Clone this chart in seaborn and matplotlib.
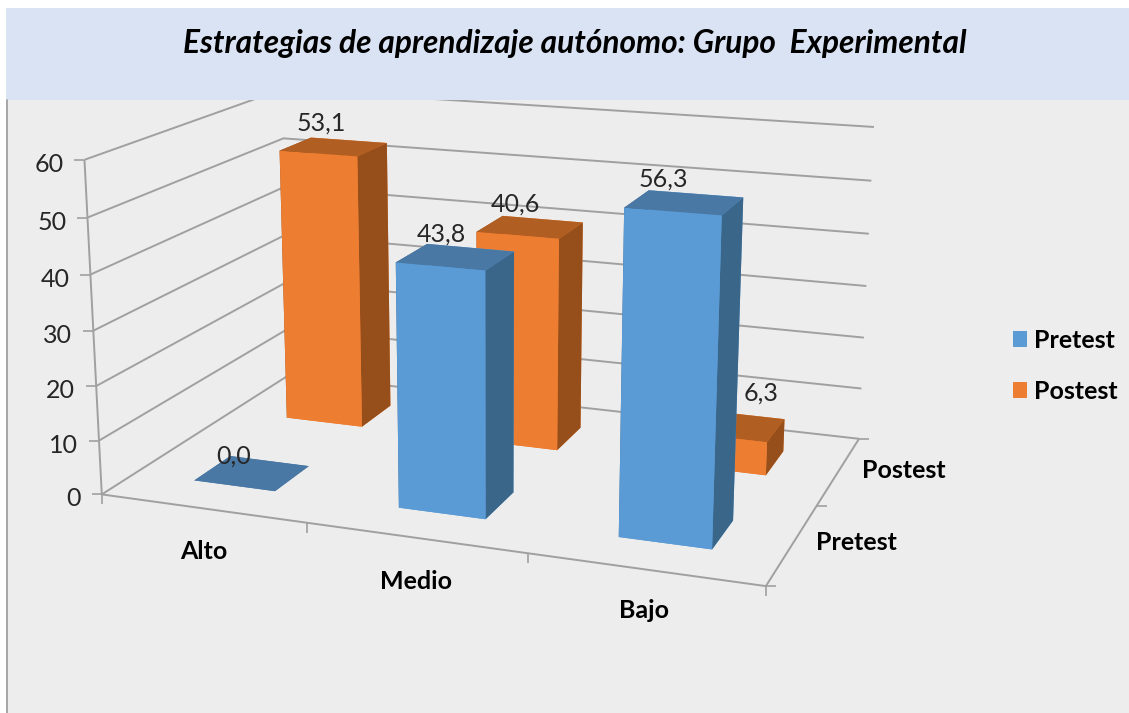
import numpy as np
import pandas as pd
import matplotlib
matplotlib.use('Agg')
import matplotlib.pyplot as plt
import seaborn as sns
from matplotlib.lines import Line2D
from matplotlib.patches import Patch, Rectangle
from mpl_toolkits.mplot3d import proj3d

# ---- data ----
categories = ['Alto', 'Medio', 'Bajo']
series_names = ['Pretest', 'Postest']
pretest = [0.0, 43.8, 56.3]
postest = [53.1, 40.6, 6.3]
z_ticks = [0, 10, 20, 30, 40, 50, 60]
title_text = 'Estrategias de aprendizaje autónomo: Grupo  Experimental'

# ---- style ----
sns.set_theme(style='white')
plt.rcParams['font.family'] = ['Lato', 'DejaVu Sans']
W, H = 1129, 713
BG = '#EDEDED'
GRID = '#A0A0A0'
palette = sns.color_palette(['#5B9BD5', '#ED7D31'])
TOPS = ['#4A78A5', '#B15E23']
SIDES = ['#3A6689', '#964F1B']
BAR_WX, BAR_WY = 0.403, 0.368

df = pd.DataFrame({'category': categories, 'Pretest': pretest, 'Postest': postest})
long = df.melt(id_vars='category', var_name='series', value_name='value')

fig = plt.figure(figsize=(W / 100, H / 100), dpi=100, facecolor='white')
fig.add_artist(Rectangle((0, 0), 1, 1, transform=fig.transFigure, fc='white', ec='none', zorder=-3))
fig.add_artist(Rectangle((6 / W, 0), 1 - 6 / W, 1 - 100 / H, transform=fig.transFigure,
                         fc=BG, ec='none', zorder=-2))

# square 3D axes, placed so that the projection lands where the reference's does
SCALE, TX, TY = 4502.484, 494.569, 307.495
side = SCALE * 0.185
left = TX - 0.095 * SCALE
bottom = H - (TY + 0.095 * SCALE)
ax = fig.add_axes([left / W, bottom / H, side / W, side / H], projection='3d')
ax.set_axis_off()
ax.patch.set_alpha(0)
ax.computed_zorder = False
ax.view_init(elev=15.3374, azim=-69.7156)
ax.set_proj_type('persp', focal_length=float(np.exp(-0.7474)))
ax.set_box_aspect((1.9889, 1.2729, 1))

nx, ny = len(categories), len(series_names)
zmax = z_ticks[-1]
line_kw = dict(color=GRID, lw=1.4, zorder=1, solid_capstyle='butt')

# walls
for z in z_ticks:
    ax.plot([0, 0, nx], [0, ny, ny], [z, z, z], **line_kw)
ax.plot([0, 0], [0, 0], [0, zmax], **line_kw)
# floor
ax.plot([0, nx, nx], [0, 0, ny], [0, 0, 0], **line_kw)
# tick marks
ax.plot([0] * len(z_ticks), [0] * len(z_ticks), z_ticks, ls='none', marker=0, ms=7, mew=1.2, color=GRID, zorder=1)
ax.plot(np.arange(nx + 1), [0] * (nx + 1), [0] * (nx + 1), ls='none', marker=3, ms=7, mew=1.2, color=GRID, zorder=1)
ax.plot([nx] * (ny + 1), np.arange(ny + 1), [0] * (ny + 1), ls='none', marker=1, ms=7, mew=1.2, color=GRID, zorder=1)

# bars, far row first
zo = 2
for j in reversed(range(ny)):
    for i in range(nx):
        h = long[(long.category == categories[i]) & (long.series == series_names[j])].value.iloc[0]
        cols = [palette[j], TOPS[j], palette[j], palette[j], SIDES[j], SIDES[j]]
        if h == 0:
            cols = [TOPS[j]] * 6
        ax.bar3d(i + .5 - BAR_WX / 2, j + .5 - BAR_WY / 2, 0, BAR_WX, BAR_WY, h,
                 color=cols, shade=False, linewidth=0, zorder=zo)
        zo += 1

ax.set_xlim(0, nx)
ax.set_ylim(0, ny)
ax.set_zlim(0, zmax)
M = ax.get_proj()


def label(x, y, z, text, dx, dy, **kw):
    px, py, _ = proj3d.proj_transform(x, y, z, M)
    opts = dict(ha='center', va='center', zorder=20, annotation_clip=False)
    opts.update(kw)
    ax.annotate(text, (px, py), xytext=(dx, dy), textcoords='offset pixels', **opts)


# value labels
value_offsets = {(0, 0): (-18, 17), (1, 0): (-14, 23), (2, 0): (-21, 23),
                 (0, 1): (-12, 24), (1, 1): (-15, 23), (2, 1): (28, 33)}
for j, vals in enumerate([pretest, postest]):
    for i, v in enumerate(vals):
        dx, dy = value_offsets[(i, j)]
        label(i + .5, j + .5, v, f'{v:.1f}'.replace('.', ','), dx, dy,
              fontsize=18, color='#262626')
# axis labels
for z in z_ticks:
    label(0, 0, z, str(z), -21, -4.5, ha='right', fontsize=18, color='#262626')
cat_offsets = [(1, -43), (1, -44), (0, -41)]
for i, c in enumerate(categories):
    label(i + .5, 0, 0, c, *cat_offsets[i], fontsize=18, fontweight='bold', color='black')
ser_offsets = [(64, 1), (65, 0)]
for j, s in enumerate(series_names):
    label(nx, j + .5, 0, s, *ser_offsets[j], fontsize=18, fontweight='bold', color='black')

# legend
handles = [Patch(fc=palette[k], ec='none') for k in range(ny)]
fig.legend(handles, series_names, loc='upper left', bbox_to_anchor=(1005 / W, 1 - 321 / H),
           frameon=False, handlelength=0.58, handleheight=0.6,
           handletextpad=0.28, labelspacing=1.13, borderpad=0.3, borderaxespad=0,
           labelcolor='black', prop=dict(family='Lato', weight='bold', size=18))

# title banner, drawn above the clipped gridlines
fig.add_artist(Rectangle((6 / W, 1 - 100 / H), 1 - 6 / W, 92 / H, transform=fig.transFigure,
                         fc='#DAE3F3', ec='none', zorder=5))
fig.add_artist(Line2D([6.5 / W, 6.5 / W], [0, 1 - 100 / H], transform=fig.transFigure,
                      color='#9A9A9A', lw=1.2, zorder=5))
fig.text(574.5 / W, 1 - 44 / H, title_text, ha='center', va='center', fontsize=22.8,
         fontweight='bold', fontstyle='italic', color='black', zorder=6)

fig.savefig('out.png', dpi=100)
